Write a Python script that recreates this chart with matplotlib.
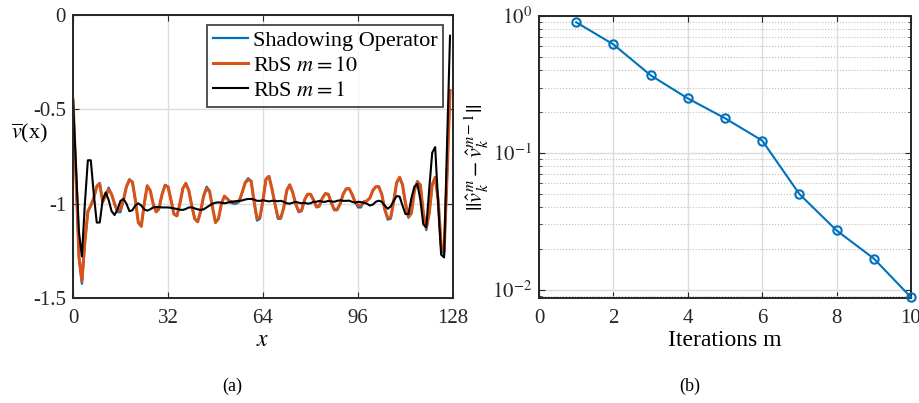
import matplotlib
matplotlib.use("Agg")
import matplotlib.pyplot as plt
import numpy as np
from matplotlib.ticker import FixedLocator, LogLocator, NullFormatter

plt.rcParams['font.family'] = ['Liberation Serif', 'DejaVu Serif']
plt.rcParams['mathtext.fontset'] = 'stix'

# ---------------- data: panel (a) ----------------
x_grid = list(range(128))

rbs_m10 = [
    -0.45, -0.85, -1.28, -1.41, -1.20, -1.04, -1.01, -0.97, -0.91, -0.895,
    -0.99, -0.96, -0.925, -0.95, -1.00, -1.04, -1.03, -0.98, -0.91, -0.875,
    -0.885, -0.98, -1.10, -1.12, -1.00, -0.905, -0.93, -1.00, -1.043, -1.02,
    -0.95, -0.905, -0.91, -0.98, -1.055, -1.065, -1.00, -0.92, -0.893, -0.93,
    -1.01, -1.08, -1.096, -1.04, -0.96, -0.92, -0.935, -1.02, -1.10, -1.08,
    -1.00, -0.96, -0.975, -0.99, -0.99, -0.99, -0.985, -0.94, -0.89, -0.873,
    -0.88, -0.99, -1.08, -1.07, -0.98, -0.87, -0.855, -0.92, -1.00, -1.07,
    -1.075, -1.02, -0.93, -0.90, -0.94, -1.00, -1.04, -1.035, -0.98, -0.95,
    -0.95, -0.98, -1.015, -1.01, -0.97, -0.948, -0.95, -0.995, -1.03, -1.03,
    -1.00, -0.95, -0.922, -0.92, -0.95, -0.99, -1.008, -1.01, -0.99, -0.985,
    -0.97, -0.93, -0.91, -0.91, -0.95, -1.03, -1.075, -1.075, -0.99, -0.89,
    -0.86, -0.90, -1.00, -1.07, -1.05, -0.93, -0.885, -0.90, -1.05, -1.13,
    -1.05, -0.90, -0.86, -0.98, -1.22, -1.25, -0.85, -0.40,
]

shadowing = [
    -0.45, -0.86, -1.29, -1.425, -1.21, -1.045, -1.01, -0.97, -0.905, -0.89,
    -0.99, -0.955, -0.915, -0.95, -1.005, -1.045, -1.045, -0.98, -0.91, -0.87,
    -0.885, -0.98, -1.10, -1.12, -1.00, -0.905, -0.93, -1.00, -1.045, -1.03,
    -0.95, -0.90, -0.91, -0.98, -1.055, -1.065, -1.00, -0.92, -0.89, -0.93,
    -1.01, -1.08, -1.096, -1.04, -0.955, -0.91, -0.93, -1.02, -1.10, -1.08,
    -1.00, -0.96, -0.975, -0.995, -1.00, -1.00, -0.99, -0.94, -0.885, -0.865,
    -0.88, -0.99, -1.09, -1.08, -0.98, -0.87, -0.855, -0.92, -1.00, -1.08,
    -1.08, -1.02, -0.93, -0.90, -0.94, -1.00, -1.045, -1.04, -0.98, -0.95,
    -0.95, -0.98, -1.02, -1.015, -0.97, -0.945, -0.95, -0.995, -1.035, -1.035,
    -1.00, -0.95, -0.92, -0.92, -0.95, -0.99, -1.02, -1.02, -0.99, -0.985,
    -0.97, -0.93, -0.91, -0.91, -0.95, -1.03, -1.085, -1.08, -0.99, -0.89,
    -0.86, -0.90, -1.00, -1.075, -1.05, -0.93, -0.88, -0.90, -1.05, -1.14,
    -1.05, -0.90, -0.86, -0.98, -1.23, -1.27, -0.85, -0.40,
]

rbs_m1 = [
    -0.45, -0.80, -1.15, -1.28, -1.00, -0.77, -0.77, -0.95, -1.10, -1.10,
    -0.98, -0.94, -0.98, -1.04, -1.06, -1.03, -0.985, -0.975, -1.00, -1.04,
    -1.035, -1.01, -0.998, -1.01, -1.03, -1.037, -1.03, -1.02, -1.018, -1.018,
    -1.02, -1.02, -1.02, -1.022, -1.025, -1.028, -1.032, -1.033, -1.028, -1.02,
    -1.02, -1.025, -1.03, -1.033, -1.03, -1.02, -1.01, -1.00, -0.995, -0.993,
    -0.995, -0.998, -0.995, -0.99, -0.99, -0.987, -0.985, -0.983, -0.978, -0.975,
    -0.975, -0.978, -0.985, -0.985, -0.982, -0.985, -0.988, -0.985, -0.985, -0.987,
    -0.985, -0.99, -0.998, -1.00, -0.995, -0.99, -0.995, -0.998, -0.995, -1.00,
    -0.998, -0.99, -0.99, -0.985, -0.99, -0.99, -0.985, -0.988, -0.99, -0.985,
    -0.982, -0.985, -0.985, -0.984, -0.99, -0.995, -0.99, -0.992, -0.995, -1.00,
    -1.01, -1.005, -0.99, -0.984, -0.99, -1.01, -1.027, -1.015, -0.985, -0.96,
    -0.962, -1.01, -1.055, -1.055, -0.97, -0.91, -0.895, -0.98, -1.11, -1.125,
    -0.92, -0.73, -0.70, -1.00, -1.27, -1.285, -0.68, -0.11,
]

# ---------------- data: panel (b) ----------------
iterations = [1, 2, 3, 4, 5, 6, 7, 8, 9, 10]
residual = [0.90, 0.62, 0.369, 0.25, 0.179, 0.123, 0.050, 0.0271, 0.0169, 0.0088]

# ---------------- styling ----------------
C_BLUE = '#0072BD'
C_ORANGE = '#D95319'
SPINE = '#262626'
GRID = '#dcdcdc'
FS = 15

fig = plt.figure(figsize=(9.19, 4.03), dpi=100)

def style_axes(ax):
    for s in ax.spines.values():
        s.set_color(SPINE)
        s.set_linewidth(1.4)
    ax.tick_params(which='both', direction='in', top=True, right=True,
                   colors=SPINE, labelcolor='#262626', labelsize=FS)
    ax.tick_params(which='major', length=4)
    ax.tick_params(axis='x', which='major', pad=8)
    ax.tick_params(axis='y', which='major', pad=5)
    ax.set_axisbelow(True)

# Panel (a)
ax1 = fig.add_axes([73/919, 1-298/403, 380/919, 283/403])
style_axes(ax1)
ax1.plot(x_grid, shadowing, color=C_BLUE, lw=1.6, label='Shadowing Operator')
ax1.plot(x_grid, rbs_m10, color=C_ORANGE, lw=2.2, label='RbS $m=10$')
ax1.plot(x_grid, rbs_m1, color='black', lw=1.5, label='RbS $m=1$')
ax1.set_xlim(0, 128)
ax1.set_ylim(-1.5, 0)
ax1.set_xticks([0, 32, 64, 96, 128])
ax1.set_xticklabels(['0', '32', '64', '96', '128'])
ax1.set_yticks([-1.5, -1, -0.5, 0])
ax1.set_yticklabels(['-1.5', '-1', '-0.5', '0'])
ax1.grid(True, color=GRID, lw=1.0)
ax1.set_xlabel('$x$', fontsize=FS+2, labelpad=1)
ax1.set_ylabel(r'$\overline{v}$(x)', fontsize=FS+1, rotation=0, labelpad=0)
ax1.yaxis.set_label_coords(-0.115, 0.54)
leg = ax1.legend(loc='upper right', fontsize=FS+1, frameon=True, fancybox=False,
                 edgecolor=SPINE, handlelength=1.6, handletextpad=0.2,
                 borderpad=0.25, labelspacing=0.2, borderaxespad=0.45)
leg.get_frame().set_linewidth(1.4)

# Panel (b)
ax2 = fig.add_axes([539/919, 1-298/403, 372/919, 282/403])
style_axes(ax2)
ax2.plot(iterations, residual, color=C_BLUE, lw=1.5, marker='o', ms=6,
         mfc='none', mec=C_BLUE, mew=1.5, clip_on=False, zorder=5)
ax2.set_yscale('log')
ax2.set_xlim(0, 10)
ax2.set_ylim(0.0087, 1.0)
ax2.set_xticks([0, 2, 4, 6, 8, 10])
ax2.yaxis.set_major_locator(FixedLocator([1e-2, 1e-1, 1e0]))
ax2.yaxis.set_minor_locator(LogLocator(base=10, subs=np.arange(2, 10)))
ax2.yaxis.set_minor_formatter(NullFormatter())
ax2.set_yticklabels([r'$10^{-2}$', r'$10^{-1}$', r'$10^{0}$'])
ax2.tick_params(which='minor', length=2)
ax2.grid(True, which='major', color=GRID, lw=1.0)
ax2.grid(True, which='minor', axis='y', color='#bdbdbd', lw=0.8, ls=':')
ax2.set_xlabel('Iterations m', fontsize=FS+2, labelpad=1)
ax2.set_ylabel(r'$||\hat{v}_k^m - \hat{v}_k^{m-1}||$', fontsize=FS+1)
ax2.yaxis.set_label_coords(-0.13, 0.5)

fig.text(232/919, 1-386/403, '(a)', ha='center', va='center', fontsize=FS-2)
fig.text(690/919, 1-386/403, '(b)', ha='center', va='center', fontsize=FS-2)

fig.savefig('out.png', dpi=100, facecolor='white')
